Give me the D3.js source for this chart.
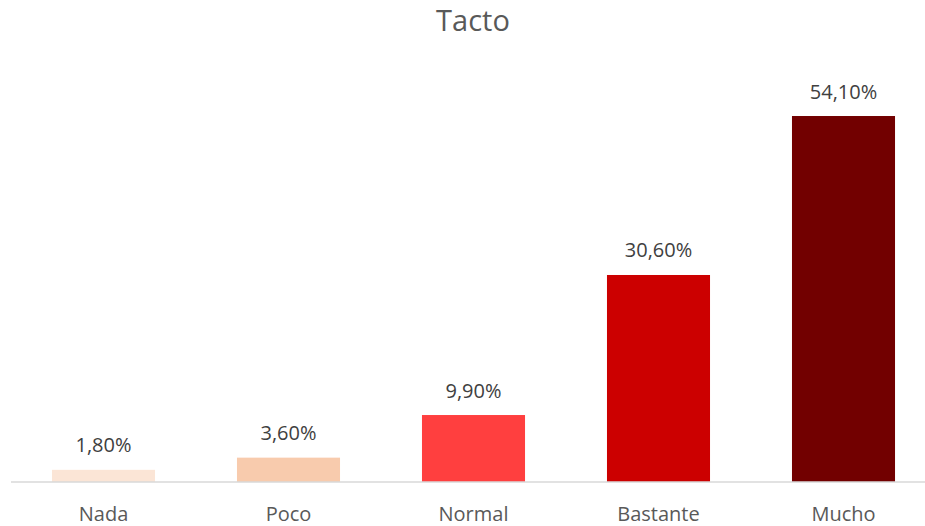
<!DOCTYPE html>
<html>
<head>
<meta charset="utf-8">
<script src="https://cdn.jsdelivr.net/npm/d3@7"></script>
<style>
  html, body { margin: 0; padding: 0; background: #ffffff; }
  svg { display: block; font-family: "Open Sans", "Liberation Sans", sans-serif; }
</style>
</head>
<body>
<svg id="chart" width="925" height="526"></svg>
<script>
const title = "Tacto";
const categories = ["Nada", "Poco", "Normal", "Bastante", "Mucho"];
const values = [1.8, 3.6, 9.9, 30.6, 54.1];
const valueLabels = ["1,80%", "3,60%", "9,90%", "30,60%", "54,10%"];
const barColors = ["#FBE5D6", "#F8CBAD", "#FF3F3F", "#CC0000", "#720000"];

const svg = d3.select("#chart");
const W = 925, H = 526;
const baseY = 482;

const x = d3.scaleBand()
  .domain(categories)
  .range([11, 936])
  .paddingInner(0.443)
  .paddingOuter(0.2215);

const y = d3.scaleLinear()
  .domain([0, 60])
  .range([baseY, baseY - 60 * 6.765]);

// title
svg.append("text")
  .attr("x", 473)
  .attr("y", 31)
  .attr("text-anchor", "middle")
  .attr("font-size", 29)
  .attr("fill", "#595959")
  .text(title);

// bars
svg.selectAll("rect.bar")
  .data(values)
  .enter().append("rect")
  .attr("class", "bar")
  .attr("x", (d, i) => x(categories[i]))
  .attr("width", x.bandwidth())
  .attr("y", d => y(d))
  .attr("height", d => y(0) - y(d))
  .attr("fill", (d, i) => barColors[i]);

// axis line
const xAxis = d3.axisBottom(x).tickSize(0).tickPadding(0);
const gx = svg.append("g").attr("transform", `translate(0,${baseY})`).call(xAxis);
gx.select(".domain").attr("d", `M11,0H925`).attr("stroke", "#D9D9D9").attr("stroke-width", 1.3);
gx.selectAll(".tick text")
  .attr("y", 39)
  .attr("dy", null)
  .attr("font-size", 20)
  .attr("font-family", "\"Open Sans\", \"Liberation Sans\", sans-serif")
  .attr("fill", "#595959");

// data labels
svg.selectAll("text.val")
  .data(values)
  .enter().append("text")
  .attr("class", "val")
  .attr("x", (d, i) => x(categories[i]) + x.bandwidth() / 2)
  .attr("y", d => y(d) - 17.5)
  .attr("text-anchor", "middle")
  .attr("font-size", 20)
  .attr("fill", "#404040")
  .text((d, i) => valueLabels[i]);
</script>
</body>
</html>
